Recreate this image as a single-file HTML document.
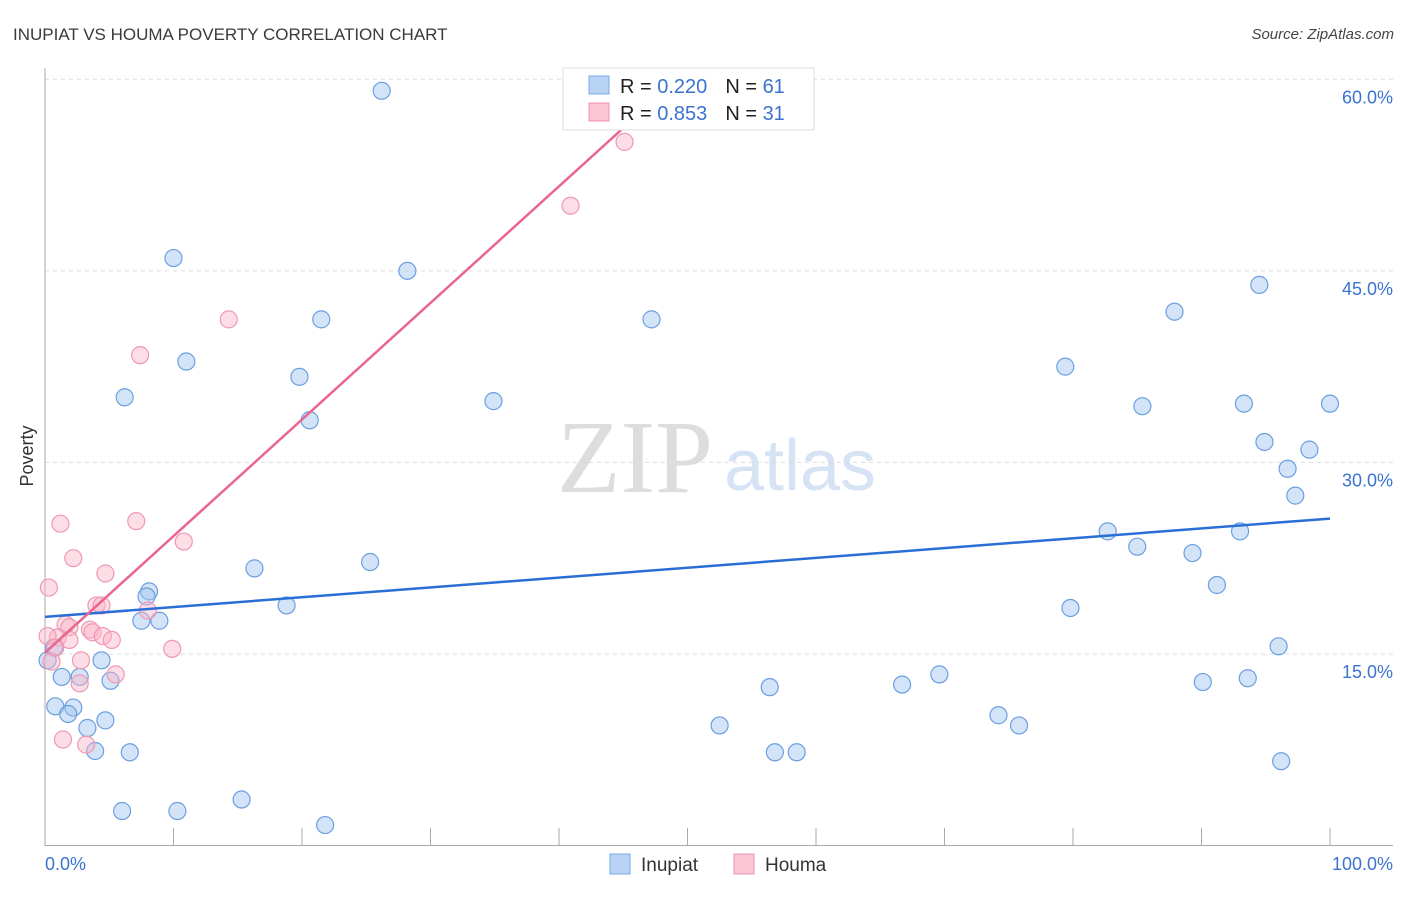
<!DOCTYPE html>
<html><head><meta charset="utf-8"><style>
body{margin:0;background:#fff;font-family:"Liberation Sans",sans-serif}
</style></head><body>
<svg id="chart" width="1406" height="892" xmlns="http://www.w3.org/2000/svg" font-family="Liberation Sans, sans-serif">
<text x="13" y="40" font-size="17" fill="#3a3a3a">INUPIAT VS HOUMA POVERTY CORRELATION CHART</text>
<text x="1394" y="39" font-size="15" fill="#444" text-anchor="end" font-style="italic">Source: ZipAtlas.com</text>
<g>
<text x="635" y="492" font-size="104" fill="#ddd" text-anchor="middle" font-family="Liberation Serif, serif">ZIP</text>
<text x="800" y="490" font-size="72" fill="#d5e3f5" text-anchor="middle">atlas</text>
</g>
<g id="grid"></g>
<g id="axes"></g>
<g id="marks"></g>
<text transform="translate(33,456) rotate(-90)" font-size="18" fill="#333" text-anchor="middle">Poverty</text>
<g>
<rect x="563" y="68" width="251" height="62" fill="#fff" stroke="#ddd"/>
<rect x="589" y="76" width="20" height="18" fill="#b9d3f5" stroke="#7aa9e8"/>
<rect x="589" y="103" width="20" height="18" fill="#fcc5d5" stroke="#ee93ad"/>
<text x="620" y="93" font-size="20" fill="#222">R = <tspan fill="#3b73d1">0.220</tspan><tspan dx="18">N = </tspan><tspan fill="#3b73d1">61</tspan></text>
<text x="620" y="120" font-size="20" fill="#222">R = <tspan fill="#3b73d1">0.853</tspan><tspan dx="18">N = </tspan><tspan fill="#3b73d1">31</tspan></text>
</g>
<g>
<rect x="610" y="854" width="20" height="20" fill="#b9d3f5" stroke="#7aa9e8"/>
<text x="641" y="871" font-size="19" fill="#333">Inupiat</text>
<rect x="734" y="854" width="20" height="20" fill="#fcc5d5" stroke="#ee93ad"/>
<text x="765" y="871" font-size="19" fill="#333">Houma</text>
</g>
</svg>
<script>
const yTicks=[15,30,45,60];
const yTickLabels=["15.0%","30.0%","45.0%","60.0%"];
const xTickLabels=["0.0%","100.0%"];
const inupiatX=[26.2,10.0,28.2,21.5,47.2,11.0,19.8,6.2,34.9,20.6,16.3,25.3,18.8,8.1,7.9,7.5,8.9,0.7,1.3,2.7,4.4,5.1,0.8,2.2,1.8,4.7,3.3,3.9,6.6,6.0,10.3,15.3,21.8,79.4,87.9,94.5,85.4,93.3,100,94.9,98.4,96.7,97.3,82.7,85.0,93.0,89.3,91.2,79.8,96.0,56.4,66.7,69.6,90.1,93.6,52.5,74.2,75.8,56.8,58.5,96.2,0.2];
const inupiatY=[59.1,46.0,45.0,41.2,41.2,37.9,36.7,35.1,34.8,33.3,21.7,22.2,18.8,19.9,19.5,17.6,17.6,15.5,13.2,13.2,14.5,12.9,10.9,10.8,10.3,9.8,9.2,7.4,7.3,2.7,2.7,3.6,1.6,37.5,41.8,43.9,34.4,34.6,34.6,31.6,31.0,29.5,27.4,24.6,23.4,24.6,22.9,20.4,18.6,15.6,12.4,12.6,13.4,12.8,13.1,9.4,10.2,9.4,7.3,7.3,6.6,14.5];
const houmaX=[45.1,40.9,14.3,7.4,1.2,7.1,10.8,2.2,4.7,0.3,4.0,4.4,8.0,1.6,1.9,3.5,3.7,1.0,1.9,4.5,5.2,0.2,0.5,2.8,9.9,2.7,5.5,1.4,3.2,0.8];
const houmaY=[55.1,50.1,41.2,38.4,25.2,25.4,23.8,22.5,21.3,20.2,18.8,18.8,18.4,17.3,17.1,16.9,16.7,16.3,16.1,16.4,16.1,16.4,14.4,14.5,15.4,12.7,13.4,8.3,7.9,15.5];
const inupiatTrend=[[0,17.9],[100,25.6]];
const houmaTrend=[[0,15.1],[49.4,60.2]];
const NS="http://www.w3.org/2000/svg";
const X=v=>45+v*12.85, Y=v=>845.5-v*12.77;
function mk(t,a,p){const e=document.createElementNS(NS,t);for(const k in a)e.setAttribute(k,a[k]);document.getElementById(p).appendChild(e);return e;}
yTicks.forEach((t,i)=>{
 const g=mk('line',{x1:45,x2:1393,y1:Y(t),y2:Y(t),stroke:'#ddd','stroke-dasharray':'4,4'},'grid');
 
 
 const l=mk('text',{x:1393,y:Y(t)+24,'font-size':18,fill:'#3b73d1','text-anchor':'end'},'axes');
 l.textContent=yTickLabels[i];
 
 
});
const ya=mk('line',{x1:45,x2:45,y1:68,y2:846,stroke:'#aaa'},'axes');


const xa=mk('line',{x1:45,x2:1393,y1:845.5,y2:845.5,stroke:'#aaa'},'axes');


for(let i=0;i<=10;i++){
 const t=mk('line',{x1:X(i*10),x2:X(i*10),y1:828,y2:845,stroke:'#aaa'},'axes');
 
 
}
[[0,'start',45],[1,'end',1393]].forEach(([i,a,x])=>{
 const l=mk('text',{x:x,y:870,'font-size':18,fill:'#3b73d1','text-anchor':a},'axes');
 l.textContent=xTickLabels[i];
 
 
});
inupiatX.forEach((v,i)=>{
 const c=mk('circle',{cx:X(v),cy:Y(inupiatY[i]),r:8.5,fill:'rgba(160,196,240,0.45)',stroke:'#6b9fe0','stroke-width':1.2},'marks');
 
 
});
houmaX.forEach((v,i)=>{
 const c=mk('circle',{cx:X(v),cy:Y(houmaY[i]),r:8.5,fill:'rgba(250,180,200,0.45)',stroke:'#ee99b3','stroke-width':1.2},'marks');
 
 
});
const t1=mk('line',{x1:X(inupiatTrend[0][0]),y1:Y(inupiatTrend[0][1]),x2:X(inupiatTrend[1][0]),y2:Y(inupiatTrend[1][1]),stroke:'#2a6fd6','stroke-width':2.5},'marks');


const t2=mk('line',{x1:X(houmaTrend[0][0]),y1:Y(houmaTrend[0][1]),x2:X(houmaTrend[1][0]),y2:Y(houmaTrend[1][1]),stroke:'#e8668f','stroke-width':2.5},'marks');


</script>
</body></html>
